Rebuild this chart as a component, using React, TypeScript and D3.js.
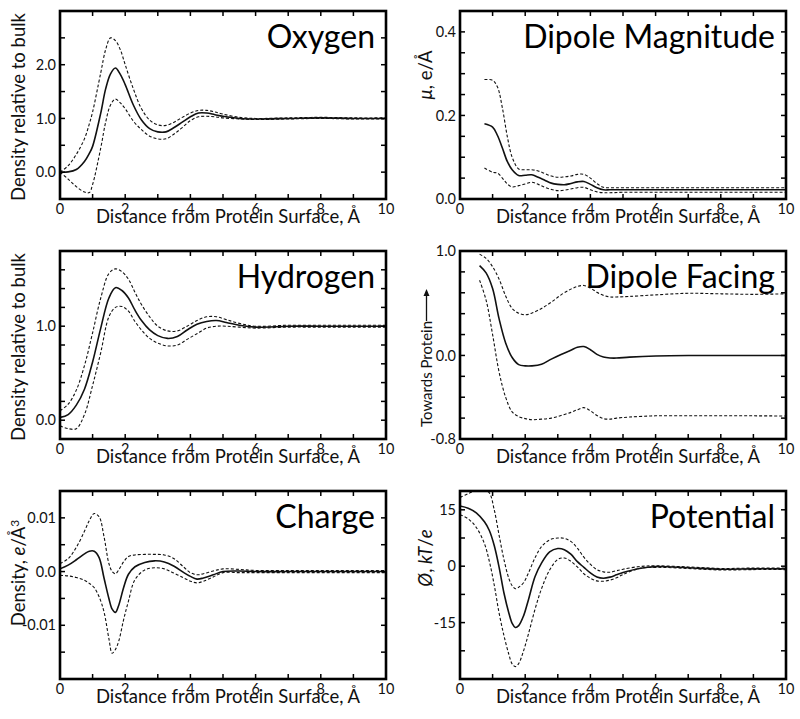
import React from "react";
import * as d3 from "d3";

// ---------- data ----------
const oxygenX = [0, 0.25, 0.5, 0.75, 0.9, 1.0, 1.25, 1.4, 1.55, 1.7, 1.85, 2.0, 2.25, 2.5, 2.75, 3.0, 3.25, 3.5, 3.75, 4.0, 4.25, 4.5, 4.75, 5.0, 5.5, 6, 7, 8, 9, 10];
const oxygenMean = [0.0, 0.005, 0.05, 0.2, 0.35, 0.48, 1.1, 1.55, 1.83, 1.94, 1.82, 1.63, 1.25, 0.97, 0.81, 0.75, 0.75, 0.83, 0.93, 1.03, 1.1, 1.1, 1.07, 1.04, 1.0, 0.99, 1.0, 1.01, 1.0, 1.0];
const oxygenUpper = [0.0, 0.12, 0.33, 0.62, 0.9, 1.12, 1.85, 2.28, 2.5, 2.45, 2.28, 2.0, 1.55, 1.18, 0.97, 0.88, 0.87, 0.93, 1.02, 1.1, 1.15, 1.15, 1.12, 1.08, 1.02, 1.0, 1.01, 1.02, 1.01, 1.01];
const oxygenLower = [0.0, -0.13, -0.27, -0.37, -0.38, -0.23, 0.45, 0.93, 1.25, 1.36, 1.29, 1.18, 0.95, 0.79, 0.67, 0.62, 0.62, 0.71, 0.83, 0.96, 1.03, 1.04, 1.03, 1.01, 0.99, 0.98, 0.99, 1.0, 0.99, 0.99];

const dipoleMagX = [0.75, 1.0, 1.15, 1.3, 1.45, 1.6, 1.8, 2.0, 2.2, 2.4, 2.6, 2.8, 3.0, 3.2, 3.4, 3.6, 3.8, 4.0, 4.2, 4.4, 4.6, 5, 6, 7, 8, 9, 10];
const dipoleMagMean = [0.18, 0.172, 0.152, 0.122, 0.09, 0.07, 0.056, 0.057, 0.058, 0.052, 0.045, 0.038, 0.035, 0.034, 0.037, 0.041, 0.042, 0.035, 0.027, 0.022, 0.022, 0.022, 0.022, 0.022, 0.022, 0.022, 0.022];
const dipoleMagUpper = [0.286, 0.284, 0.268, 0.218, 0.15, 0.1, 0.072, 0.07, 0.07, 0.067, 0.061, 0.055, 0.052, 0.053, 0.055, 0.059, 0.059, 0.05, 0.037, 0.028, 0.027, 0.027, 0.027, 0.027, 0.027, 0.027, 0.027];
const dipoleMagLower = [0.074, 0.064, 0.062, 0.05, 0.036, 0.029, 0.032, 0.036, 0.04, 0.035, 0.028, 0.023, 0.02, 0.021, 0.024, 0.027, 0.028, 0.022, 0.017, 0.015, 0.015, 0.016, 0.016, 0.016, 0.016, 0.016, 0.016];

const hydrogenX = [0, 0.25, 0.5, 0.75, 1.0, 1.25, 1.5, 1.7, 1.9, 2.1, 2.3, 2.5, 2.75, 3.0, 3.3, 3.6, 3.9, 4.2, 4.5, 4.8, 5.1, 5.5, 6, 7, 8, 9, 10];
const hydrogenMean = [0.03, 0.06, 0.16, 0.33, 0.62, 0.98, 1.3, 1.41, 1.38, 1.3, 1.17, 1.06, 0.96, 0.9, 0.87, 0.89, 0.96, 1.02, 1.05, 1.06, 1.04, 1.01, 0.99, 1.0, 1.0, 1.0, 1.0];
const hydrogenUpper = [0.1, 0.17, 0.32, 0.58, 0.93, 1.3, 1.56, 1.61, 1.58, 1.5, 1.36, 1.23, 1.1, 1.0, 0.95, 0.95, 1.0, 1.06, 1.1, 1.1, 1.07, 1.03, 1.0, 1.01, 1.01, 1.01, 1.01];
const hydrogenLower = [-0.06, -0.09, -0.09, 0.06, 0.37, 0.72, 1.1, 1.2, 1.21, 1.16, 1.05, 0.96, 0.87, 0.82, 0.79, 0.8, 0.86, 0.92, 0.98, 1.0, 1.0, 0.99, 0.98, 0.99, 0.99, 0.99, 0.99];

const facingX = [0.6, 0.8, 1.0, 1.2, 1.4, 1.6, 1.8, 2.0, 2.2, 2.5, 2.8, 3.1, 3.4, 3.6, 3.8, 4.0, 4.2, 4.4, 4.6, 4.8, 5.2, 6, 7, 8, 9, 10];
const facingMean = [0.86, 0.79, 0.64, 0.35, 0.12, -0.02, -0.088, -0.1, -0.1, -0.085, -0.035, 0.01, 0.05, 0.078, 0.085, 0.055, 0.01, -0.015, -0.024, -0.025, -0.016, -0.005, 0.0, 0.0, 0.0, 0.0];
const facingUpper = [0.97, 0.93, 0.85, 0.73, 0.57, 0.45, 0.405, 0.39, 0.405, 0.45, 0.51, 0.58, 0.635, 0.66, 0.67, 0.645, 0.605, 0.575, 0.56, 0.56, 0.565, 0.58, 0.595, 0.59, 0.585, 0.59];
const facingLower = [0.72, 0.53, 0.2, -0.16, -0.4, -0.54, -0.585, -0.605, -0.615, -0.61, -0.6, -0.575, -0.545, -0.52, -0.5, -0.53, -0.575, -0.605, -0.61, -0.6, -0.59, -0.578, -0.578, -0.578, -0.578, -0.58];

const chargeX = [0, 0.25, 0.5, 0.75, 0.9, 1.05, 1.2, 1.35, 1.5, 1.6, 1.7, 1.8, 1.95, 2.1, 2.3, 2.6, 2.9, 3.2, 3.5, 3.8, 4.0, 4.2, 4.4, 4.7, 5.0, 5.5, 6, 7, 8, 9, 10];
const chargeMean = [0.0005, 0.0012, 0.0022, 0.0033, 0.0038, 0.0038, 0.0026, -0.0012, -0.005, -0.007, -0.0076, -0.0063, -0.003, -0.0005, 0.0009, 0.0017, 0.002, 0.0018, 0.001, -0.0002, -0.0009, -0.0014, -0.0012, -0.0006, 0.0, 0.0001, 0.0, 0.0, 0.0, 0.0, 0.0];
const chargeUpper = [0.0015, 0.0024, 0.0045, 0.0075, 0.0095, 0.0108, 0.0102, 0.0065, 0.0015, 0.0, -0.0004, 0.0003, 0.0018, 0.0028, 0.0031, 0.0032, 0.0032, 0.0031, 0.0024, 0.0008, -0.0002, -0.0006, -0.0004, 0.0001, 0.0005, 0.0004, 0.0002, 0.0002, 0.0002, 0.0002, 0.0002];
const chargeLower = [-0.0007, -0.0008, -0.0011, -0.0016, -0.0022, -0.003, -0.0047, -0.0075, -0.0125, -0.0152, -0.0145, -0.013, -0.009, -0.0055, -0.0015, 0.0003, 0.0007, 0.0005, -0.0003, -0.0012, -0.0018, -0.0021, -0.0018, -0.001, -0.0002, -0.0002, -0.0002, -0.0002, -0.0002, -0.0002, -0.0002];

const potentialX = [0, 0.25, 0.5, 0.75, 0.9, 1.05, 1.2, 1.35, 1.5, 1.6, 1.7, 1.8, 1.95, 2.1, 2.3, 2.5, 2.75, 3.0, 3.2, 3.4, 3.6, 3.8, 4.0, 4.2, 4.4, 4.6, 4.8, 5.0, 5.5, 6, 7, 8, 9, 10];
const potentialMean = [16, 15.4, 14.2, 11.8, 9.5, 5.5, -0.3, -7.2, -12.5, -15.2, -16.3, -15.8, -13.2, -8.9, -2.8, 0.8, 3.8, 4.7, 4.4, 3.2, 1.2, -0.3, -1.8, -2.9, -3.2, -2.9, -2.3, -1.7, -0.6, -0.1, -0.4, -0.8, -0.7, -0.7];
const potentialUpper = [18.3, 19.3, 20.2, 20.3, 19.5, 15.0, 8.2, 1.7, -3.3, -5.2, -6, -5.6, -4.4, -1.8, 2.2, 5.2, 7, 7.5, 7.4, 6.6, 4.8, 2.4, 0.5, -0.9, -1.5, -1.6, -1.2, -0.8, -0.1, 0.1, -0.2, -0.6, -0.5, -0.5];
const potentialLower = [13.7, 12.6, 10.3, 6, 1.3, -5, -12.5, -18.5, -23.5, -26, -26.7, -25.9, -22.5, -18, -11.5, -6, -1, 1.8, 2.2, 1.3, -0.2, -2, -3.2, -3.9, -4.0, -3.7, -3.1, -2.2, -0.6, -0.3, -0.6, -1.0, -0.9, -0.9];

// ticks
const xTickValues = [0, 1, 2, 3, 4, 5, 6, 7, 8, 9, 10];
const xLabelValues = [0, 2, 4, 6, 8, 10];
const oxygenTickLabels = ["0.0", "1.0", "2.0"];
const oxygenTickValues = [0, 1, 2];
const dipoleMagTickLabels = ["0.0", "0.2", "0.4"];
const dipoleMagTickValues = [0, 0.2, 0.4];
const hydrogenTickLabels = ["0.0", "1.0"];
const hydrogenTickValues = [0, 1];
const facingTickLabels = ["-0.8", "0.0", "1.0"];
const facingTickValues = [-0.8, 0, 1];
const chargeTickLabels = ["-0.01", "0.0", "0.01"];
const chargeTickValues = [-0.01, 0, 0.01];
const potentialTickLabels = ["-15", "0", "15"];
const potentialTickValues = [-15, 0, 15];

// ---------- layout ----------
const W = 326;
const H = 188;
const FONT = "Lato, 'Open Sans', sans-serif";

type Spec = {
  key: string;
  left: number;
  top: number;
  title: string;
  xs: number[];
  mean: number[];
  upper: number[];
  lower: number[];
  yDomain: [number, number];
  yStep: number;
  yTickValues: number[];
  yTickLabels: string[];
  yLabel: React.ReactNode;
  yLabelX: number;
  yLabelY: number;
  yLabelSize?: number;
  arrow?: boolean;
};

const specs: Spec[] = [
  {
    key: "oxygen", left: 60, top: 11, title: "Oxygen",
    xs: oxygenX, mean: oxygenMean, upper: oxygenUpper, lower: oxygenLower,
    yDomain: [-0.5, 3.0], yStep: 0.5, yTickValues: oxygenTickValues, yTickLabels: oxygenTickLabels,
    yLabel: "Density relative to bulk", yLabelX: 25, yLabelY: 107,
  },
  {
    key: "dipmag", left: 460, top: 11, title: "Dipole Magnitude",
    xs: dipoleMagX, mean: dipoleMagMean, upper: dipoleMagUpper, lower: dipoleMagLower,
    yDomain: [0, 0.45], yStep: 0.05, yTickValues: dipoleMagTickValues, yTickLabels: dipoleMagTickLabels,
    yLabel: (<><tspan fontStyle="italic">μ</tspan>, e/Å</>), yLabelX: 432, yLabelY: 75,
  },
  {
    key: "hydrogen", left: 60, top: 251, title: "Hydrogen",
    xs: hydrogenX, mean: hydrogenMean, upper: hydrogenUpper, lower: hydrogenLower,
    yDomain: [-0.2, 1.8], yStep: 0.2, yTickValues: hydrogenTickValues, yTickLabels: hydrogenTickLabels,
    yLabel: "Density relative to bulk", yLabelX: 25, yLabelY: 347,
  },
  {
    key: "facing", left: 460, top: 251, title: "Dipole Facing",
    xs: facingX, mean: facingMean, upper: facingUpper, lower: facingLower,
    yDomain: [-0.8, 1.0], yStep: 0.2, yTickValues: facingTickValues, yTickLabels: facingTickLabels,
    yLabel: "Towards Protein", yLabelX: 432, yLabelY: 427, yLabelSize: 15, arrow: true,
  },
  {
    key: "charge", left: 60, top: 491, title: "Charge",
    xs: chargeX, mean: chargeMean, upper: chargeUpper, lower: chargeLower,
    yDomain: [-0.02, 0.015], yStep: 0.005, yTickValues: chargeTickValues, yTickLabels: chargeTickLabels,
    yLabel: (<>Density, <tspan fontStyle="italic">e</tspan>/Å<tspan dy={-6} fontSize={12}>3</tspan></>), yLabelX: 25, yLabelY: 573,
  },
  {
    key: "potential", left: 460, top: 491, title: "Potential",
    xs: potentialX, mean: potentialMean, upper: potentialUpper, lower: potentialLower,
    yDomain: [-30, 20], yStep: 7.5, yTickValues: potentialTickValues, yTickLabels: potentialTickLabels,
    yLabel: (<><tspan fontStyle="italic">Ø</tspan>, <tspan fontStyle="italic">kT</tspan>/<tspan fontStyle="italic">e</tspan></>), yLabelX: 432, yLabelY: 558,
  },
];

function Panel({ s }: { s: Spec }) {
  const x = d3.scaleLinear().domain([0, 10]).range([s.left, s.left + W]);
  const y = d3.scaleLinear().domain(s.yDomain).range([s.top + H, s.top]);
  const mk = (vals: number[]) =>
    d3.line<number>()
      .x((_, i) => x(s.xs[i]))
      .y((d) => y(d))
      .curve(d3.curveCatmullRom.alpha(0.5))(vals) || "";
  const bottom = s.top + H;
  const right = s.left + W;
  const yMinor = d3.range(s.yDomain[0], s.yDomain[1] + 1e-9, s.yStep).filter(
    (v) => Math.abs(y(v) - s.top) > 1 && Math.abs(y(v) - bottom) > 1
  );
  const clipId = `clip-${s.key}`;
  const tickLen = 5;
  const arrowX = s.yLabelX - 5.5;
  return (
    <g>
      <defs>
        <clipPath id={clipId}>
          <rect x={s.left} y={s.top} width={W} height={H} />
        </clipPath>
      </defs>
      <g clipPath={`url(#${clipId})`} fill="none" stroke="#111">
        <path d={mk(s.upper)} strokeWidth={1.1} strokeDasharray="3,2" />
        <path d={mk(s.lower)} strokeWidth={1.1} strokeDasharray="3,2" />
        <path d={mk(s.mean)} strokeWidth={1.6} />
      </g>
      {/* ticks */}
      <g stroke="#000" strokeWidth={1.5}>
        {xTickValues.filter((v) => v > 0 && v < 10).map((v) => (
          <g key={`xt${v}`}>
            <line x1={x(v)} x2={x(v)} y1={bottom} y2={bottom - tickLen} />
            <line x1={x(v)} x2={x(v)} y1={s.top} y2={s.top + tickLen} />
          </g>
        ))}
        {yMinor.map((v, i) => (
          <g key={`yt${i}`}>
            <line x1={s.left} x2={s.left + tickLen} y1={y(v)} y2={y(v)} />
            <line x1={right} x2={right - tickLen} y1={y(v)} y2={y(v)} />
          </g>
        ))}
      </g>
      <rect x={s.left} y={s.top} width={W} height={H} fill="none" stroke="#000" strokeWidth={2.6} />
      {/* x tick labels */}
      <g fontFamily={FONT} fontSize={14.5} fill="#111" textAnchor="middle">
        {xLabelValues.map((v) => (
          <text key={`xl${v}`} x={x(v)} y={bottom + 14.5}>{v}</text>
        ))}
      </g>
      {/* y tick labels */}
      <g fontFamily={FONT} fontSize={14.5} fill="#111" textAnchor="end">
        {s.yTickValues.map((v, i) => (
          <text key={`yl${i}`} x={s.left - 4} y={y(v)} dy="0.35em">{s.yTickLabels[i]}</text>
        ))}
      </g>
      {/* axis labels */}
      <text x={(s.left + right) / 2 + 5} y={bottom + 24} fontFamily={FONT} fontSize={18.5} textAnchor="middle" fill="#111">
        Distance from Protein Surface, Å
      </text>
      <text
        transform={`translate(${s.yLabelX},${s.yLabelY}) rotate(-90)`}
        fontFamily={FONT}
        fontSize={s.yLabelSize ?? 18.5}
        textAnchor={s.arrow ? "start" : "middle"}
        fill="#111"
      >
        {s.yLabel}
      </text>
      {s.arrow && (
        <g stroke="#111" strokeWidth={1.3} fill="#111">
          <line x1={arrowX} x2={arrowX} y1={321} y2={294} />
          <path d={`M${arrowX},${289} l-3,7 l6,0 z`} stroke="none" />
        </g>
      )}
      <text x={right - 11} y={s.top + 37} fontFamily={FONT} fontSize={32} textAnchor="end" fill="#000">
        {s.title}
      </text>
    </g>
  );
}

export default function App() {
  return (
    <svg
      width={800}
      height={719}
      viewBox="0 0 800 719"
      style={{ position: "absolute", left: 0, top: 0, background: "#fff" }}
    >
      <rect x={0} y={0} width={800} height={719} fill="#fff" />
      {specs.map((s) => (
        <Panel key={s.key} s={s} />
      ))}
    </svg>
  );
}
